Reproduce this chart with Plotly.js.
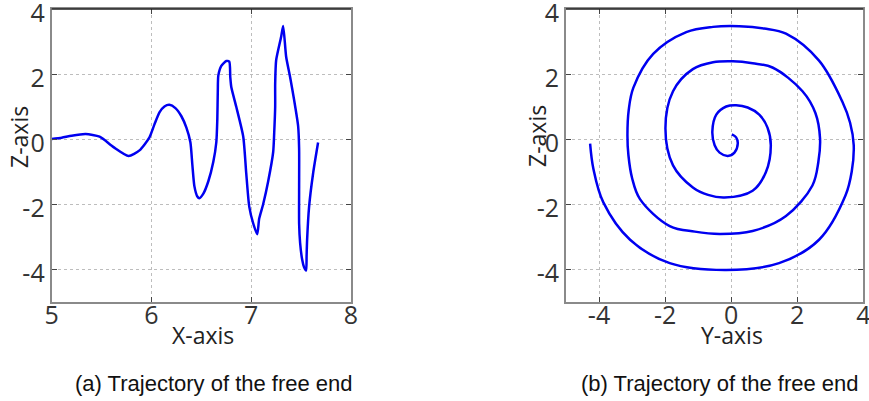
<!DOCTYPE html>
<html>
<head>
<meta charset="utf-8">
<script src="https://cdn.plot.ly/plotly-3.0.1.min.js"></script>
<style>html,body{margin:0;padding:0;background:#fff;}#chart{width:869px;height:401px;}</style>
</head>
<body>
<div id="chart"></div>
<script>
// (a) X-Z trajectory of the free end
const trajX = [5.00, 5.10, 5.20, 5.34, 5.48, 5.62, 5.77, 5.88, 5.98, 6.03, 6.08, 6.13, 6.18, 6.24, 6.30, 6.35, 6.39, 6.41, 6.43, 6.46, 6.48, 6.52, 6.57, 6.62, 6.65, 6.66, 6.665, 6.67, 6.70, 6.75, 6.78, 6.79, 6.80, 6.85, 6.92, 6.95, 6.98, 7.02, 7.06, 7.08, 7.12, 7.17, 7.22, 7.23, 7.24, 7.24, 7.25, 7.30, 7.32, 7.35, 7.39, 7.43, 7.47, 7.48, 7.48, 7.48, 7.49, 7.51, 7.53, 7.55, 7.555, 7.56, 7.58, 7.62, 7.67];
const trajZ = [0.00, 0.04, 0.10, 0.15, 0.07, -0.25, -0.52, -0.35, 0.05, 0.45, 0.82, 1.00, 1.05, 0.95, 0.70, 0.35, -0.10, -0.80, -1.45, -1.77, -1.82, -1.68, -1.30, -0.70, -0.10, 0.60, 1.50, 1.95, 2.25, 2.40, 2.38, 1.90, 1.60, 0.99, 0.07, -1.06, -2.08, -2.60, -2.93, -2.45, -2.00, -1.30, -0.40, 0.17, 1.00, 1.71, 2.43, 3.15, 3.48, 2.53, 1.90, 1.20, 0.40, -0.30, -1.50, -2.60, -3.20, -3.70, -3.95, -4.05, -3.60, -3.11, -2.08, -1.06, -0.11];

// (b) Y-Z trajectory of the free end
const spiralY = [0.02, 0.15, 0.20, 0.10, -0.10, -0.35, -0.50, -0.57, -0.45, -0.15, 0.15, 0.50, 0.85, 1.10, 1.20, 1.05, 0.65, -0.20, -0.70, -1.16, -1.76, -1.99, -1.76, -1.16, -0.55, 0.05, 0.65, 1.25, 2.16, 2.55, 2.69, 2.64, 2.46, 1.66, 0.65, -0.35, -1.10, -1.86, -2.76, -3.00, -3.11, -3.14, -3.10, -2.96, -2.36, -1.36, -0.55, 0.25, 1.00, 1.66, 2.66, 3.36, 3.60, 3.71, 3.65, 3.46, 2.66, 1.45, -0.15, -1.86, -3.06, -3.87, -4.17, -4.27];
const spiralZ = [0.14, 0.05, -0.14, -0.42, -0.52, -0.42, -0.19, 0.23, 0.75, 1.00, 1.04, 0.97, 0.75, 0.35, -0.19, -1.02, -1.59, -1.80, -1.72, -1.49, -0.81, 0.33, 1.47, 2.15, 2.36, 2.39, 2.33, 2.20, 1.47, 0.80, 0.02, -0.70, -1.43, -2.37, -2.83, -2.92, -2.85, -2.68, -1.85, -1.20, -0.50, 0.12, 0.90, 1.58, 2.62, 3.29, 3.45, 3.47, 3.40, 3.24, 2.41, 1.16, 0.50, -0.19, -1.00, -1.74, -3.10, -3.82, -4.03, -3.82, -3.10, -1.95, -0.92, -0.14];

const xTickVals = [5, 6, 7, 8];
const xTickText = ["5", "6", "7", "8"];
const zTickVals = [-4, -2, 0, 2, 4];
const zTickText = ["-4", "-2", "0", "2", "4"];
const yTickVals = [-4, -2, 0, 2, 4];
const yTickText = ["-4", "-2", "0", "2", "4"];
const captions = ["(a) Trajectory of the free end", "(b) Trajectory of the free end"];
const axisTitles = ["X-axis", "Z-axis", "Y-axis", "Z-axis"];

const lineStyle = {color: '#0000f0', width: 2.5, shape: 'spline', smoothing: 0.6};
const traces = [
  {x: trajX, y: trajZ, mode: 'lines', line: lineStyle, xaxis: 'x', yaxis: 'y', hoverinfo: 'x+y'},
  {x: spiralY, y: spiralZ, mode: 'lines', line: Object.assign({}, lineStyle, {smoothing: 1}), xaxis: 'x2', yaxis: 'y2', hoverinfo: 'x+y'}
];

const fam = 'Open Sans, Noto Sans, sans-serif';
const tickFont = {family: fam, size: 25, color: '#333333'};
function ax(extra) {
  return Object.assign({
    showgrid: true, gridcolor: '#bdbdbd', griddash: 'dot', gridwidth: 1,
    zeroline: false, showline: true, linecolor: '#8a8a8a', linewidth: 2,
    mirror: 'ticks', ticks: 'inside', ticklen: 5, tickcolor: '#444', tickwidth: 1,
    tickfont: tickFont, tickmode: 'array', ticklabeloverflow: 'allow', fixedrange: true
  }, extra);
}

const yDom = [1 - 301.5 / 401, 1 - 9 / 401];
const titleFont = {family: fam, size: 23, color: '#222'};
const capFont = {family: 'Liberation Sans, Arial, sans-serif', size: 22, color: '#111'};
const layout = {
  width: 869, height: 401,
  margin: {l: 0, r: 0, t: 0, b: 0},
  paper_bgcolor: '#ffffff', plot_bgcolor: '#ffffff',
  showlegend: false,
  xaxis: ax({domain: [51.7 / 869, 351 / 869], range: [5, 8], tickvals: xTickVals, ticktext: xTickText, anchor: 'y', ticklabelstandoff: -10}),
  yaxis: ax({domain: yDom, range: [-5, 4], tickvals: zTickVals, ticktext: zTickText, anchor: 'x', ticklabelshift: 4}),
  xaxis2: ax({domain: [566 / 869, 863.3 / 869], range: [-5, 4], tickvals: yTickVals, ticktext: yTickText, anchor: 'y2', ticklabelstandoff: -10}),
  yaxis2: ax({domain: yDom, range: [-5, 4], tickvals: zTickVals, ticktext: zTickText, anchor: 'x2', ticklabelshift: 4}),
  shapes: [
    {type: 'line', xref: 'x domain', yref: 'y domain', x0: 0, x1: 1, y0: 1, y1: 1, line: {color: '#222', width: 1.5}, layer: 'above'},
    {type: 'line', xref: 'x2 domain', yref: 'y2 domain', x0: 0, x1: 1, y0: 1, y1: 1, line: {color: '#222', width: 1.5}, layer: 'above'}
  ],
  annotations: [
    {text: axisTitles[0], xref: 'paper', yref: 'paper', x: 203 / 869, y: 1 - 335 / 401, xanchor: 'center', yanchor: 'middle', showarrow: false, font: titleFont},
    {text: axisTitles[1], xref: 'paper', yref: 'paper', x: 19 / 869, y: 1 - 137 / 401, xanchor: 'center', yanchor: 'middle', textangle: -90, showarrow: false, font: titleFont},
    {text: axisTitles[2], xref: 'paper', yref: 'paper', x: 732 / 869, y: 1 - 335 / 401, xanchor: 'center', yanchor: 'middle', showarrow: false, font: titleFont},
    {text: axisTitles[3], xref: 'paper', yref: 'paper', x: 537 / 869, y: 1 - 136 / 401, xanchor: 'center', yanchor: 'middle', textangle: -90, showarrow: false, font: titleFont},
    {text: captions[0], xref: 'paper', yref: 'paper', x: 214 / 869, y: 1 - 383 / 401, xanchor: 'center', yanchor: 'middle', showarrow: false, font: capFont},
    {text: captions[1], xref: 'paper', yref: 'paper', x: 720 / 869, y: 1 - 383 / 401, xanchor: 'center', yanchor: 'middle', showarrow: false, font: capFont}
  ]
};

Plotly.newPlot('chart', traces, layout, {displayModeBar: false, staticPlot: true});
</script>
</body>
</html>
